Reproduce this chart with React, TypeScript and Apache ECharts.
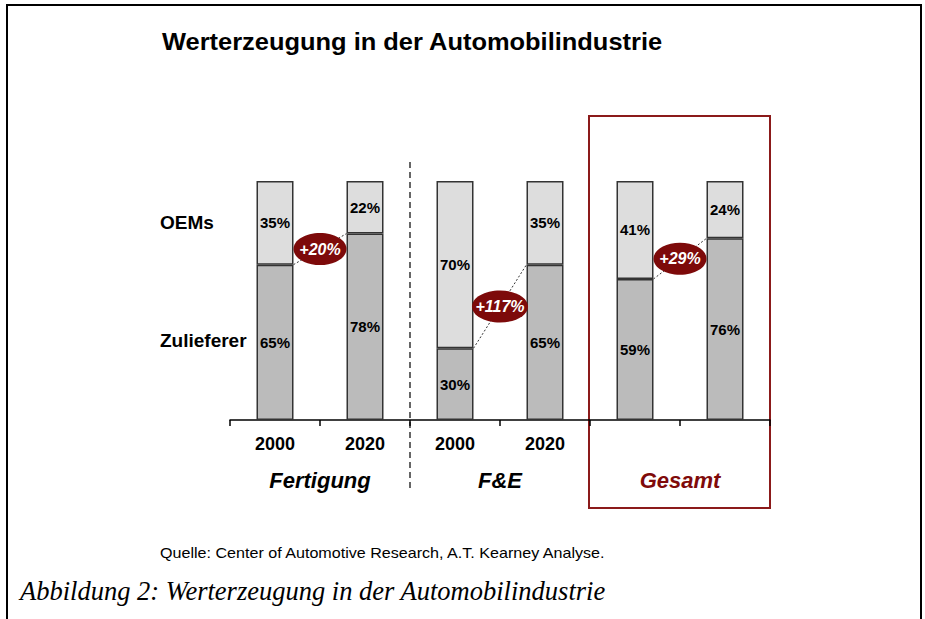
import React, { useEffect, useRef } from "react";
import * as echarts from "echarts";

const categories = ["2000", "2020", "2000", "2020", "", ""];
const zulieferer = [65, 78, 30, 65, 59, 76];
const oems = [35, 22, 70, 35, 41, 24];
const groupLabels = ["Fertigung", "F&E", "Gesamt"];
const growthPairs = [
  [0, 1],
  [2, 3],
  [4, 5],
];
const growthLabels = ["+20%", "+117%", "+29%"];

const BAR_W = 37;
const DARK_RED = "#7d0a0a";

export default function App() {
  const ref = useRef<HTMLDivElement>(null);

  useEffect(() => {
    document.body.style.margin = "0";
    if (!ref.current) return;
    const chart = echarts.init(ref.current, undefined, { renderer: "svg" });

    const connectorData = growthPairs.map(([a, b]) => [a, zulieferer[a], b, zulieferer[b]]);

    const barLabel = {
      show: true,
      position: "inside",
      formatter: "{c}%",
      color: "#000",
      fontWeight: "bold",
      fontSize: 15,
      fontFamily: "Liberation Sans, Arial, sans-serif",
    };

    const option: any = {
      animation: false,
      backgroundColor: "#fff",
      grid: { left: 230, top: 181, width: 540, height: 239, containLabel: false },
      xAxis: {
        type: "category",
        data: categories,
        axisLine: { lineStyle: { color: "#000", width: 1.5 } },
        axisTick: { show: true, length: 6, lineStyle: { color: "#000", width: 1.5 } },
        axisLabel: {
          color: "#000",
          fontWeight: "bold",
          fontSize: 18,
          margin: 15,
          fontFamily: "Liberation Sans, Arial, sans-serif",
        },
        splitLine: { show: false },
      },
      yAxis: { type: "value", min: 0, max: 100, show: false },
      series: [
        {
          name: "Zulieferer",
          type: "bar",
          stack: "a",
          barWidth: BAR_W,
          data: zulieferer,
          itemStyle: { color: "#bbbbbb", borderColor: "#333", borderWidth: 1.5 },
          label: barLabel,
        },
        {
          name: "OEMs",
          type: "bar",
          stack: "a",
          barWidth: BAR_W,
          data: oems,
          itemStyle: { color: "#dddddd", borderColor: "#333", borderWidth: 1.5 },
          label: barLabel,
        },
        {
          name: "growth",
          type: "custom",
          z: 10,
          data: connectorData,
          encode: { x: 0, y: 1 },
          renderItem: (params: any, api: any) => {
            const p0 = api.coord([api.value(0), api.value(1)]);
            const p1 = api.coord([api.value(2), api.value(3)]);
            const x0 = p0[0] + BAR_W / 2;
            const x1 = p1[0] - BAR_W / 2;
            const mx = (x0 + x1) / 2;
            const my = (p0[1] + p1[1]) / 2;
            const label = growthLabels[params.dataIndex];
            const rx = label.length > 4 ? 28 : 26.5;
            return {
              type: "group",
              children: [
                {
                  type: "line",
                  shape: { x1: x0, y1: p0[1], x2: x1, y2: p1[1] },
                  style: { stroke: "#333", lineWidth: 1, lineDash: [2, 2] },
                },
                {
                  type: "ellipse",
                  shape: { cx: mx, cy: my, rx, ry: 16 },
                  style: { fill: DARK_RED },
                },
                {
                  type: "text",
                  x: mx,
                  y: my,
                  style: {
                    text: label,
                    fill: "#fff",
                    font: "italic bold 16px 'Liberation Sans', Arial, sans-serif",
                    align: "center",
                    verticalAlign: "middle",
                  },
                },
              ],
            };
          },
        },
      ],
      graphic: [
        {
          type: "polyline",
          shape: { points: [[7, 619], [7, 5], [921, 5], [921, 619]] },
          style: { stroke: "#000", lineWidth: 2, fill: null },
        },
        {
          type: "text",
          x: 162,
          y: 42,
          scaleX: 1.06,
          style: {
            text: "Werterzeugung in der Automobilindustrie",
            font: "bold 24px 'Liberation Sans', Arial, sans-serif",
            fill: "#000",
            verticalAlign: "middle",
          },
        },
        {
          type: "text",
          x: 160,
          y: 222,
          style: {
            text: "OEMs",
            font: "bold 19px 'Liberation Sans', Arial, sans-serif",
            fill: "#000",
            verticalAlign: "middle",
          },
        },
        {
          type: "text",
          x: 160,
          y: 340,
          style: {
            text: "Zulieferer",
            font: "bold 19px 'Liberation Sans', Arial, sans-serif",
            fill: "#000",
            verticalAlign: "middle",
          },
        },
        {
          type: "line",
          shape: { x1: 410, y1: 162, x2: 410, y2: 492 },
          style: { stroke: "#000", lineWidth: 1.2, lineDash: [6, 4] },
        },
        {
          type: "rect",
          shape: { x: 589, y: 116, width: 181, height: 392 },
          style: { stroke: "#8b1a1a", lineWidth: 2, fill: null },
        },
        ...groupLabels.map((t, i) => ({
          type: "text",
          x: 320 + i * 180,
          y: 480,
          style: {
            text: t,
            font: "italic bold 22px 'Liberation Sans', Arial, sans-serif",
            fill: i === 2 ? "#7f0a0a" : "#000",
            align: "center",
            verticalAlign: "middle",
          },
        })),
        {
          type: "text",
          x: 160,
          y: 553,
          scaleX: 1.15,
          style: {
            text: "Quelle: Center of Automotive Research, A.T. Kearney Analyse.",
            font: "14px 'Liberation Sans', Arial, sans-serif",
            fill: "#000",
            verticalAlign: "middle",
          },
        },
        {
          type: "text",
          x: 20,
          y: 591,
          style: {
            text: "Abbildung 2: Werterzeugung in der Automobilindustrie",
            font: "italic 26.5px 'Liberation Serif', 'Times New Roman', serif",
            fill: "#000",
            verticalAlign: "middle",
          },
        },
      ],
    };

    chart.setOption(option);
    return () => chart.dispose();
  }, []);

  return <div ref={ref} style={{ width: 925, height: 619 }} />;
}
